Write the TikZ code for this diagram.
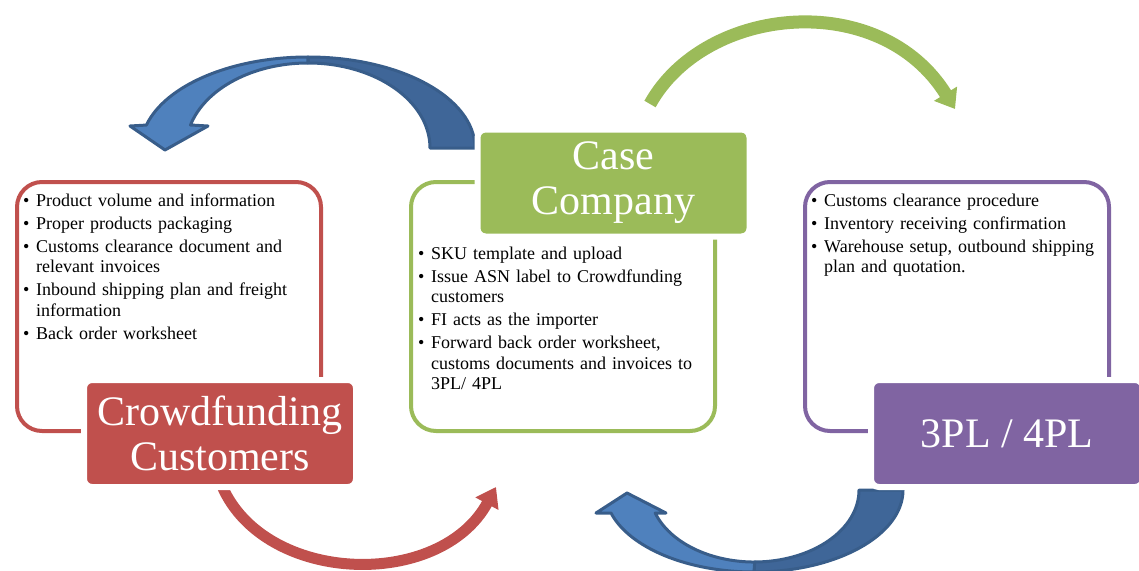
\documentclass[tikz,border=0pt]{standalone}
\usepackage{fontspec}
\setmainfont{Liberation Serif}
\usetikzlibrary{positioning,arrows.meta}
\definecolor{crowdred}{HTML}{C0504D}
\definecolor{casegreen}{HTML}{9BBB59}
\definecolor{plpurple}{HTML}{8064A2}
\definecolor{arrowblue}{HTML}{4F81BD}
\definecolor{arrowdark}{HTML}{3F6698}
\definecolor{arrowedge}{HTML}{385D8A}
\newcommand{\listitem}[1]{\par\hangindent=15pt\hangafter=1\noindent\makebox[15pt][l]{\hspace{2pt}\textbullet}#1\par}

\begin{document}
\begin{tikzpicture}[x=1pt,y=-1pt,
    frame box/.style={draw,rounded corners=25pt,line width=4pt,minimum width=304pt,minimum height=249pt},
    title box/.style={draw=white,line width=6pt,rounded corners=8pt,minimum width=272pt,minimum height=107pt,text=white,align=center,font=\fontsize{42}{45}\selectfont},
    list text/.style={inner sep=0pt,text width=300pt,align=left,font=\fontsize{18}{20.5}\selectfont,execute at begin node={\setlength{\parskip}{2.5pt}}},
    block arrow/.style={draw=arrowedge,line width=3pt,line join=round},
    flow arrow/.style={line width=12pt}]

        \useasboundingbox (0,0) rectangle (1139,570);

        \coordinate (greenstart) at (650,104);
        \coordinate (greenend) at (955,109);
        \coordinate (redstart) at (222,486);
        \coordinate (redend) at (496,487);

        \draw[flow arrow, line width=13pt, casegreen, -{Triangle[length=18pt,width=26pt]}] (greenstart) .. controls (705,5) and (880,-12) .. (greenend);
        \draw[flow arrow, line width=11pt, crowdred, -{Triangle[length=19pt,width=25pt]}] (redstart) .. controls (265,585) and (440,590) .. (redend);

        \draw[block arrow, fill=arrowdark] (475,148) arc[start angle=0, end angle=-90, x radius=167, y radius=91]
            -- (308,63) arc[start angle=-90, end angle=0, x radius=122, y radius=85] -- cycle;
        \draw[block arrow, fill=arrowblue] (308,57) arc[start angle=-90, end angle=-165.4, x radius=167, y radius=91]
            -- (130,126) -- (165,150) -- (208,126) -- (190.5,125)
            arc[start angle=-164.3, end angle=-90, x radius=122, y radius=85] -- cycle;

        \draw[block arrow, fill=arrowdark] (903,490) arc[start angle=0, end angle=90, x radius=149, y radius=82]
            -- (754,562) arc[start angle=90, end angle=0, x radius=105, y radius=72] -- cycle;
        \draw[block arrow, fill=arrowblue] (754,572) arc[start angle=90, end angle=163.7, x radius=149, y radius=82]
            -- (596,513) -- (627,493) -- (666,513) -- (655.2,513)
            arc[start angle=161.4, end angle=90, x radius=105, y radius=72] -- cycle;

        \node[frame box, draw=crowdred] (crowdbox) at (169,306.5) {};
        \node[frame box, draw=casegreen] (casebox) at (563,306.5) {};
        \node[frame box, draw=plpurple] (plbox) at (957,306.5) {};

        \node[title box, fill=crowdred] (crowd) at (220,433.5) {Crowdfunding\\Customers};
        \node[title box, fill=casegreen] (case) at (613.5,183) {Case\\Company};
        \node[title box, fill=plpurple] (pl) at (1007,433.5) {3PL / 4PL};

        \node[list text] (crowdlist) [below right=3pt and 6pt of crowdbox.north west] {%
            \listitem{Product volume and information}
            \listitem{Proper products packaging}
            \listitem{Customs clearance document and\newline relevant invoices}
            \listitem{Inbound shipping plan and freight\newline information}
            \listitem{Back order worksheet}};
        \node[list text] (caselist) [below right=56pt and 7pt of casebox.north west] {%
            \listitem{SKU template and upload}
            \listitem{Issue ASN label to Crowdfunding\newline customers}
            \listitem{FI acts as the importer}
            \listitem{Forward back order worksheet,\newline customs documents and invoices to\newline 3PL/ 4PL}};
        \node[list text] (pllist) [below right=3pt and 6pt of plbox.north west] {%
            \listitem{Customs clearance procedure}
            \listitem{Inventory receiving confirmation}
            \listitem{Warehouse setup, outbound shipping\newline plan and quotation.}};

\end{tikzpicture}
\end{document}
